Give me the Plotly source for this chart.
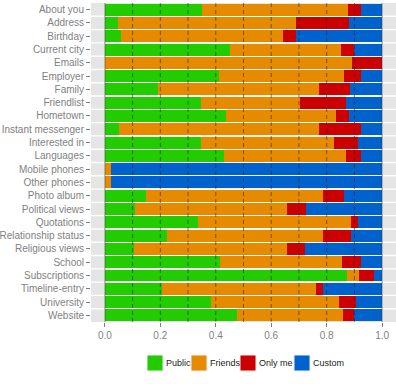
import plotly.graph_objects as go

categories = ["About you", "Address", "Birthday", "Current city", "Emails", "Employer",
              "Family", "Friendlist", "Hometown", "Instant messenger", "Interested in",
              "Languages", "Mobile phones", "Other phones", "Photo album", "Political views",
              "Quotations", "Relationship status", "Religious views", "School",
              "Subscriptions", "Timeline-entry", "University", "Website"]

public = [0.351, 0.047, 0.059, 0.453, 0.0, 0.413, 0.190, 0.348, 0.438, 0.051, 0.345, 0.431,
          0.0, 0.0, 0.150, 0.109, 0.336, 0.225, 0.105, 0.416, 0.873, 0.205, 0.381, 0.477]
friends = [0.526, 0.643, 0.582, 0.399, 0.890, 0.451, 0.581, 0.355, 0.397, 0.722, 0.483, 0.438,
           0.023, 0.023, 0.637, 0.549, 0.552, 0.562, 0.553, 0.439, 0.044, 0.558, 0.464, 0.382]
only_me = [0.047, 0.192, 0.050, 0.045, 0.110, 0.058, 0.114, 0.165, 0.046, 0.151, 0.084, 0.056,
           0.0, 0.0, 0.074, 0.068, 0.024, 0.099, 0.062, 0.069, 0.054, 0.025, 0.060, 0.041]
custom = [0.076, 0.118, 0.309, 0.103, 0.0, 0.078, 0.115, 0.132, 0.119, 0.076, 0.088, 0.075,
          0.977, 0.977, 0.139, 0.274, 0.088, 0.114, 0.280, 0.076, 0.029, 0.212, 0.095, 0.100]

x_ticks = [0.0, 0.2, 0.4, 0.6, 0.8, 1.0]
dash_lines = [0.1, 0.2, 0.3, 0.4, 0.5, 0.6, 0.7, 0.8, 0.9]

series = [("Public", public, "#22cc00"), ("Friends", friends, "#e68a00"),
          ("Only me", only_me, "#cc0000"), ("Custom", custom, "#0062cc")]

W, H = 396, 384
ML, MR, MT, MB = 91, 0, 3, 62
PW, PH = W - ML - MR, H - MT - MB

def px_x(px):
    return (px - ML) / PW

def px_y(py):
    return (H - MB - py) / PH

ypos = list(range(len(categories)))

fig = go.Figure()
for name, vals, col in series:
    fig.add_trace(go.Bar(
        x=vals, y=ypos, orientation='h', name=name, showlegend=False,
        marker=dict(color=col, line=dict(width=0)),
    ))

shapes = []
# white separators between categories
for k in range(len(categories) - 1):
    shapes.append(dict(type='line', xref='paper', x0=0, x1=1, yref='y', y0=k + 0.5, y1=k + 0.5,
                       line=dict(color='white', width=1.4), layer='below'))
# dashed reference lines over the bars
for v in dash_lines:
    shapes.append(dict(type='line', xref='x', x0=v, x1=v, yref='paper', y0=0, y1=1,
                       line=dict(color='rgba(40,40,40,0.6)', width=1, dash='4px,3px'), layer='above'))
for v in [0.0, 1.0]:
    shapes.append(dict(type='line', xref='x', x0=v, x1=v, yref='paper', y0=0, y1=1,
                       line=dict(color='rgba(40,40,40,0.55)', width=1), layer='above'))

# legend drawn by hand (ggplot-style square keys)
legend_keys = [147, 191, 240, 294]
annotations = []
for (name, vals, col), kx in zip(series, legend_keys):
    shapes.append(dict(type='rect', xref='paper', yref='paper',
                       x0=px_x(kx), x1=px_x(kx + 16), y0=px_y(371), y1=px_y(355),
                       fillcolor=col, line=dict(color='#f0f0f0', width=1)))
    annotations.append(dict(xref='paper', yref='paper', x=px_x(kx + 18), y=px_y(363),
                            text=name, showarrow=False, xanchor='left', yanchor='middle',
                            borderpad=0, font=dict(size=9, color='#1a1a1a')))

fig.update_layout(
    template='none',
    width=W, height=H,
    margin=dict(l=ML, r=MR, t=MT, b=MB),
    barmode='stack', bargap=0.1,
    plot_bgcolor='#e5e5e5', paper_bgcolor='white',
    font=dict(family='Liberation Sans, Arial, sans-serif', size=10, color='#7f7f7f'),
    shapes=shapes, annotations=annotations, showlegend=False,
    xaxis=dict(range=[-0.05, 1.05], tickvals=x_ticks, tickformat='.1f',
               showgrid=True, gridcolor='white', gridwidth=1, zeroline=False,
               ticks='outside', ticklen=4, tickcolor='#7f7f7f', showline=False,
               automargin=False, tickfont=dict(size=10, color='#7f7f7f')),
    yaxis=dict(range=[len(categories) - 0.5, -0.5], tickvals=ypos, ticktext=categories,
               showgrid=False, zeroline=False, ticks='outside', ticklen=4,
               tickcolor='#7f7f7f', showline=False, automargin=False,
               tickfont=dict(size=10, color='#7f7f7f')),
)

fig.write_html("out.html", config={"displayModeBar": False},
               post_script="document.body.style.margin='0';")
